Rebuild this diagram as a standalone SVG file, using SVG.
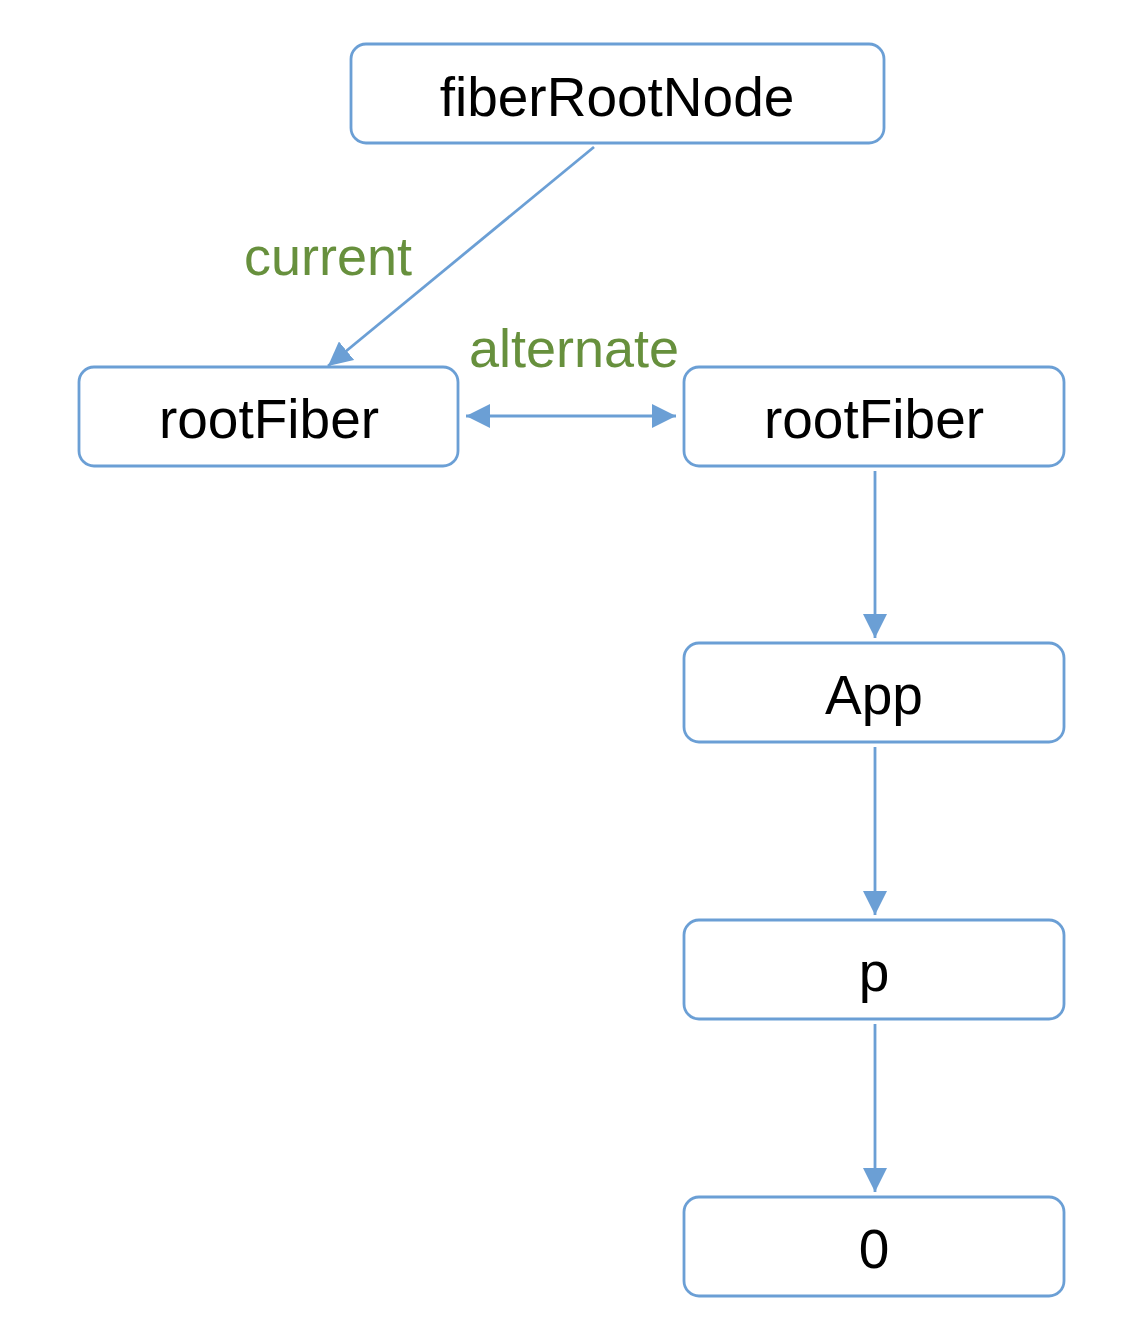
<svg xmlns="http://www.w3.org/2000/svg" width="1142" height="1342" viewBox="0 0 1142 1342">
<style>
.box{fill:#fff;stroke:#6b9fd5;stroke-width:2.8}
.lbl{font-family:"Liberation Sans",Arial,sans-serif;font-size:55px;fill:#000;text-anchor:middle}
.edge{font-family:"Liberation Sans",Arial,sans-serif;font-size:54px;fill:#67903d}
.conn{stroke:#6b9fd5;stroke-width:2.8;fill:none}
</style>
<defs>
<marker id="ah" markerUnits="userSpaceOnUse" markerWidth="24" markerHeight="24" viewBox="0 0 22 22" refX="22" refY="11" orient="auto-start-reverse">
<path d="M0,0 L22,11 L0,22 Z" fill="#6b9fd5"/>
</marker>
</defs>
<rect width="1142" height="1342" fill="#fff"/>
<g id="connectors">
<line class="conn" x1="594" y1="147" x2="328" y2="366" marker-end="url(#ah)"/>
<line class="conn" x1="466" y1="416" x2="676" y2="416" marker-start="url(#ah)" marker-end="url(#ah)"/>
<line class="conn" x1="875" y1="471" x2="875" y2="638" marker-end="url(#ah)"/>
<line class="conn" x1="875" y1="747" x2="875" y2="915" marker-end="url(#ah)"/>
<line class="conn" x1="875" y1="1024" x2="875" y2="1192" marker-end="url(#ah)"/>
<text class="edge" x="244" y="275">current</text>
<text class="edge" x="469" y="367">alternate</text>
</g>
<g id="fiberRootNode"><rect class="box" x="351" y="44" width="533" height="99" rx="15"/><text class="lbl" x="617" y="116">fiberRootNode</text></g>
<g id="rootFiberCurrent"><rect class="box" x="79" y="367" width="379" height="99" rx="15"/><text class="lbl" x="269" y="438">rootFiber</text></g>
<g id="rootFiberAlternate"><rect class="box" x="684" y="367" width="380" height="99" rx="15"/><text class="lbl" x="874" y="438">rootFiber</text></g>
<g id="App"><rect class="box" x="684" y="643" width="380" height="99" rx="15"/><text class="lbl" x="874" y="714">App</text></g>
<g id="p"><rect class="box" x="684" y="920" width="380" height="99" rx="15"/><text class="lbl" x="874" y="991">p</text></g>
<g id="zero"><rect class="box" x="684" y="1197" width="380" height="99" rx="15"/><text class="lbl" x="874" y="1268">0</text></g>
</svg>
